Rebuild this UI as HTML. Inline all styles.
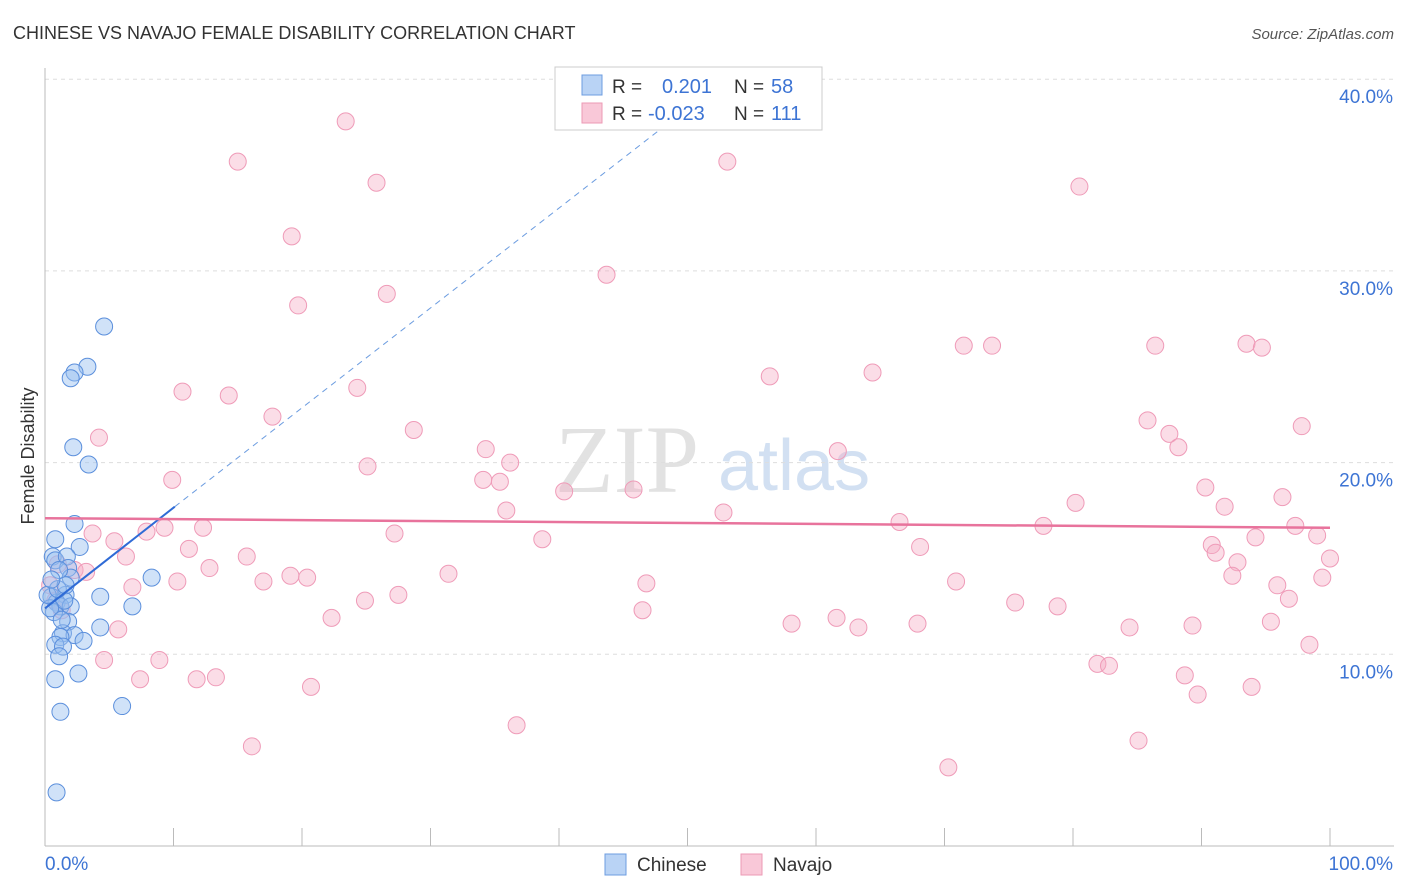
<!DOCTYPE html>
<html><head><meta charset="utf-8"><style>
body{margin:0;background:#fff;font-family:"Liberation Sans",sans-serif;}
svg{display:block}
</style></head><body>
<svg id="c" width="1406" height="892">
<text x="13" y="39" font-size="18" fill="#333">CHINESE VS NAVAJO FEMALE DISABILITY CORRELATION CHART</text>
<text x="1394" y="39" font-size="15" fill="#555" font-style="italic" text-anchor="end">Source: ZipAtlas.com</text>
<text x="34" y="456" font-size="18" fill="#333" text-anchor="middle" transform="rotate(-90 34 456)">Female Disability</text>
<text x="555" y="492" font-size="96" fill="#e2e2e2" font-family="Liberation Serif,serif">ZIP</text>
<text x="718" y="490" font-size="72" fill="#d2e0f2">atlas</text>
<g id="grid"></g><g id="pts"></g><g id="lines"></g>
<g>
<rect x="555" y="67" width="267" height="63" fill="#fff" stroke="#ccc"/>
<rect x="582" y="75" width="20" height="20" fill="#b9d3f5" stroke="#6d9de0"/>
<rect x="582" y="103" width="20" height="20" fill="#f9c8d8" stroke="#ec9ab5"/>
<text x="612" y="93" font-size="19" fill="#333">R = </text><text x="662" y="93" font-size="20" fill="#3d74d4">0.201</text>
<text x="734" y="93" font-size="19" fill="#333">N = </text><text x="771" y="93" font-size="20" fill="#3d74d4">58</text>
<text x="612" y="120" font-size="19" fill="#333">R = </text><text x="648" y="120" font-size="20" fill="#3d74d4">-0.023</text>
<text x="734" y="120" font-size="19" fill="#333">N = </text><text x="771" y="120" font-size="20" fill="#3d74d4">111</text>
</g>
<g>
<rect x="605" y="854" width="21" height="21" fill="#b9d3f5" stroke="#6d9de0"/>
<text x="637" y="871" font-size="19" fill="#333">Chinese</text>
<rect x="741" y="854" width="21" height="21" fill="#f9c8d8" stroke="#ec9ab5"/>
<text x="773" y="871" font-size="19" fill="#333">Navajo</text>
</g>
</svg>
<script>
const yTicks=[10,20,30,40];
const yTickLabels=["10.0%","20.0%","30.0%","40.0%"];
const xTicks=[0,10,20,30,40,50,60,70,80,90,100];
const chineseX=[4.6,3.3,2.3,2.0,2.2,3.4,2.3,0.8,0.6,0.8,2.7,1.7,1.8,2.0,8.3,1.1,4.3,1.6,0.5,0.9,1.2,0.7,2.0,6.8,1.5,0.4,1.8,4.3,1.4,2.3,1.2,3.0,0.8,1.4,1.1,2.6,0.8,1.2,6.0,0.9,0.2,1.0,1.6,0.5,1.3];
const chineseY=[27.1,25.0,24.7,24.4,20.8,19.9,16.8,16.0,15.1,14.9,15.6,15.1,14.5,14.0,14.0,14.4,13.0,13.1,13.0,12.7,12.5,12.2,12.5,12.5,12.8,12.4,11.7,11.4,11.1,11.0,10.9,10.7,10.5,10.4,9.9,9.0,8.7,7.0,7.3,2.8,13.1,13.4,13.6,13.9,11.8];
const navajoX=[23.4,15.0,53.1,25.8,80.5,19.2,43.7,19.7,26.6,71.5,73.7,86.4,93.5,94.7,56.4,64.4,10.7,14.3,24.3,17.7,28.7,4.2,85.8,87.5,88.2,97.8,61.7,34.3,36.2,25.1,9.9,34.1,35.4,40.4,45.8,90.3,80.2,96.3,91.8,35.9,52.8,66.5,77.7,97.3,3.7,9.3,12.3,7.9,27.2,38.7,5.4,11.2,68.1,90.8,91.1,94.2,99.0,100,6.3,15.7,12.8,92.8,2.3,3.2,31.4,92.4,99.4,6.8,10.3,17.0,19.1,20.4,46.8,70.9,95.9,24.9,27.5,75.5,78.8,96.8,46.5,22.3,61.6,58.1,63.3,67.9,89.3,95.4,84.4,5.7,98.4,4.6,8.9,81.9,82.8,7.4,11.8,13.3,20.7,88.7,89.7,93.9,36.7,16.1,85.1,70.3,0.4,0.8,1.0,1.3];
const navajoY=[37.8,35.7,35.7,34.6,34.4,31.8,29.8,28.2,28.8,26.1,26.1,26.1,26.2,26.0,24.5,24.7,23.7,23.5,23.9,22.4,21.7,21.3,22.2,21.5,20.8,21.9,20.6,20.7,20.0,19.8,19.1,19.1,19.0,18.5,18.6,18.7,17.9,18.2,17.7,17.5,17.4,16.9,16.7,16.7,16.3,16.6,16.6,16.4,16.3,16.0,15.9,15.5,15.6,15.7,15.3,16.1,16.2,15.0,15.1,15.1,14.5,14.8,14.4,14.3,14.2,14.1,14.0,13.5,13.8,13.8,14.1,14.0,13.7,13.8,13.6,12.8,13.1,12.7,12.5,12.9,12.3,11.9,11.9,11.6,11.4,11.6,11.5,11.7,11.4,11.3,10.5,9.7,9.7,9.5,9.4,8.7,8.7,8.8,8.3,8.9,7.9,8.3,6.3,5.2,5.5,4.1,13.6,12.8,14.7,12.3];
const chineseTrend=[12.4,17.7,37.6];
const chineseTrendX=[0,10.1,48.3];
const navajoTrend=[17.1,16.6];

const NS="http://www.w3.org/2000/svg";
const X=v=>45+v*12.85, Y=v=>846-v*19.17;
function mk(tag,attrs,parent){const e=document.createElementNS(NS,tag);for(const k in attrs)e.setAttribute(k,attrs[k]);parent.appendChild(e);return e;}
const grid=document.getElementById('grid'),pts=document.getElementById('pts'),lines=document.getElementById('lines');
yTicks.forEach((t,i)=>{
 const l=mk('line',{x1:45,x2:1394,y1:Y(t),y2:Y(t),stroke:'#ddd','stroke-dasharray':'4,4'},grid);
 
 
 const tx=mk('text',{x:1393,y:Y(t)+24,'font-size':19,fill:'#3d74d4','text-anchor':'end'},grid);
 tx.textContent=yTickLabels[i];
 
 
});
const ax=mk('line',{x1:45,x2:45,y1:68,y2:846,stroke:'#bbb'},grid);


const bx=mk('line',{x1:45,x2:1394,y1:846,y2:846,stroke:'#bbb'},grid);


xTicks.forEach(t=>{if(t===0)return;const l=mk('line',{x1:X(t),x2:X(t),y1:828,y2:846,stroke:'#bbb'},grid);
 
 });
const xl0=mk('text',{x:45,y:870,'font-size':19,fill:'#3d74d4'},grid);xl0.textContent='0.0%';


const xl1=mk('text',{x:1393,y:870,'font-size':19,fill:'#3d74d4','text-anchor':'end'},grid);xl1.textContent='100.0%';


navajoX.forEach((v,i)=>{const c=mk('circle',{cx:X(v),cy:Y(navajoY[i]),r:8.5,fill:'rgba(246,170,196,0.4)',stroke:'#ef9bb8','stroke-width':1},pts);
 
 });
chineseX.forEach((v,i)=>{const c=mk('circle',{cx:X(v),cy:Y(chineseY[i]),r:8.5,fill:'rgba(150,190,240,0.45)',stroke:'#5b8fdc','stroke-width':1},pts);
 
 });
const t1=mk('line',{x1:X(chineseTrendX[0]),y1:Y(chineseTrend[0]),x2:X(chineseTrendX[1]),y2:Y(chineseTrend[1]),stroke:'#2f6bd6','stroke-width':2},lines);


const t2=mk('line',{x1:X(chineseTrendX[1]),y1:Y(chineseTrend[1]),x2:X(chineseTrendX[2]),y2:Y(chineseTrend[2]),stroke:'#6d9de0','stroke-width':1,'stroke-dasharray':'6,5'},lines);


const t3=mk('line',{x1:X(0),y1:Y(navajoTrend[0]),x2:X(100),y2:Y(navajoTrend[1]),stroke:'#e8739c','stroke-width':2.5},lines);


</script>
</body></html>
